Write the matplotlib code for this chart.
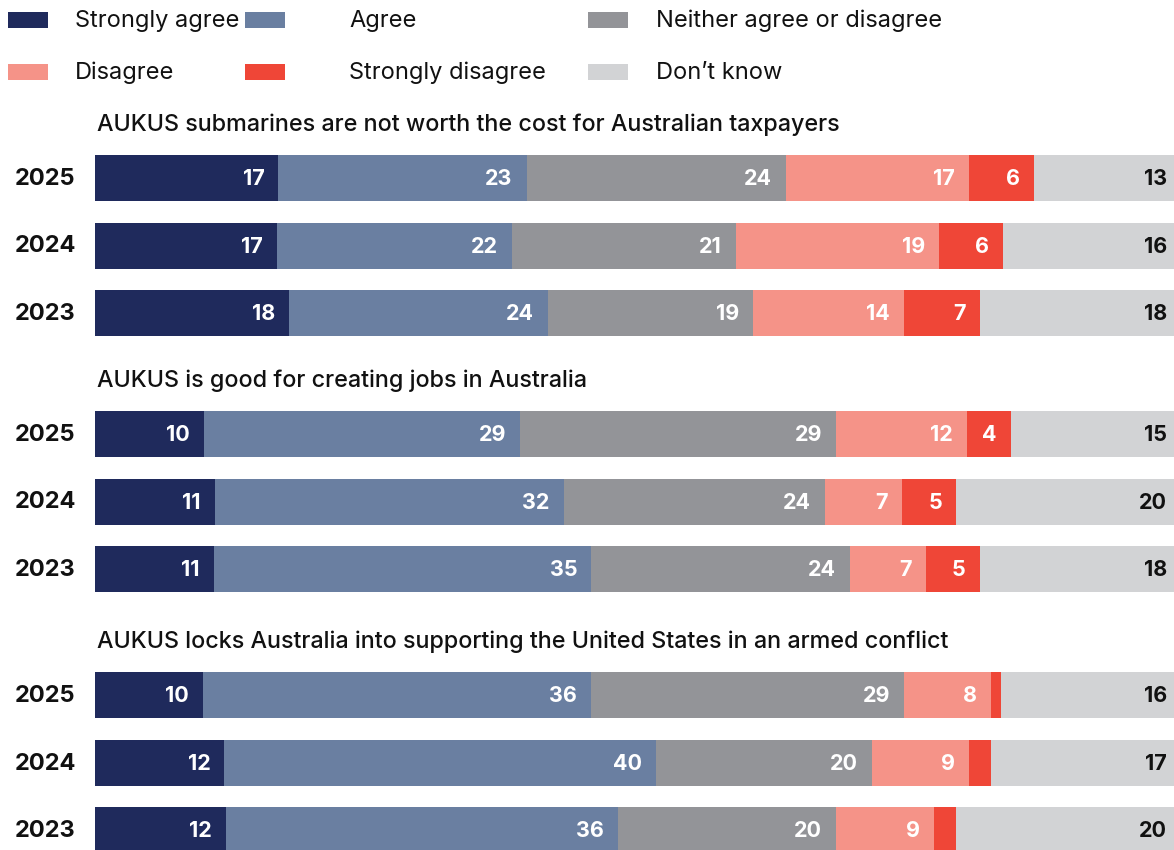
import matplotlib
matplotlib.use("Agg")
import matplotlib.pyplot as plt
import numpy as np

plt.rcParams["font.family"] = ["Inter", "DejaVu Sans"]

categories = ["Strongly agree", "Agree", "Neither agree or disagree",
              "Disagree", "Strongly disagree", "Don\u2019t know"]
colors = ["#1f2a5c", "#6a7fa1", "#939498", "#f59388", "#ef4637", "#d2d3d5"]
label_colors = ["white", "white", "white", "white", "white", "#111111"]

statements = [
    "AUKUS submarines are not worth the cost for Australian taxpayers",
    "AUKUS is good for creating jobs in Australia",
    "AUKUS locks Australia into supporting the United States in an armed conflict",
]
years = ["2025", "2024", "2023"]

# values per statement, rows = years, cols = categories
submarines_cost = [
    [17, 23, 24, 17, 6, 13],
    [17, 22, 21, 19, 6, 16],
    [18, 24, 19, 14, 7, 18],
]
creating_jobs = [
    [10, 29, 29, 12, 4, 15],
    [11, 32, 24, 7, 5, 20],
    [11, 35, 24, 7, 5, 18],
]
armed_conflict = [
    [10, 36, 29, 8, 1, 16],
    [12, 40, 20, 9, 2, 17],
    [12, 36, 20, 9, 2, 20],
]
groups = [submarines_cost, creating_jobs, armed_conflict]

W, H = 1174, 850
fig = plt.figure(figsize=(W / 100, H / 100), dpi=100)

# axes covering the bar area; y in pixel units (top = 0)
x0, x1 = 95, 1174
ax = fig.add_axes([x0 / W, 0, (x1 - x0) / W, 1])
ax.set_xlim(0, 100)
ax.set_ylim(H, 0)
ax.axis("off")

group_tops = [178, 434, 695]
row_gap = 67.5
bar_h = 46

for g, (title, data) in enumerate(zip(statements, groups)):
    fig.text(97 / W, 1 - (group_tops[g] - 53) / H, title,
             fontsize=16.8, fontweight="medium", color="#111111",
             ha="left", va="center")
    for r, (year, row) in enumerate(zip(years, data)):
        y = group_tops[g] + r * row_gap
        vals = np.array(row, dtype=float)
        widths = vals / vals.sum() * 100
        lefts = np.concatenate([[0], np.cumsum(widths)[:-1]])
        ax.barh(y, widths, left=lefts, height=bar_h, color=colors,
                linewidth=0)
        for k in range(len(vals)):
            if vals[k] < 3:
                continue
            pad = 0.65 if k == len(vals) - 1 else 1.3
            ax.text(lefts[k] + widths[k] - pad, y + 1, f"{row[k]:g}",
                    ha="right", va="center", fontsize=15.5,
                    fontweight="bold", color=label_colors[k])
        fig.text(45 / W, 1 - (y + 1) / H, year, fontsize=17,
                 fontweight="bold", color="#111111",
                 ha="center", va="center")

# legend
leg_cols = [(8, 75), (245, 349), (588, 656)]
leg_rows = [20, 72]
for i, (name, col) in enumerate(zip(categories, colors)):
    px, tx = leg_cols[i % 3]
    py = leg_rows[i // 3]
    fig.patches.append(plt.Rectangle((px / W, 1 - (py + 8) / H), 40 / W,
                                     16 / H, transform=fig.transFigure,
                                     color=col, lw=0))
    fig.text(tx / W, 1 - (py + 1) / H, name, fontsize=17, color="#111111",
             ha="left", va="center")

fig.savefig("out.png", dpi=100)
